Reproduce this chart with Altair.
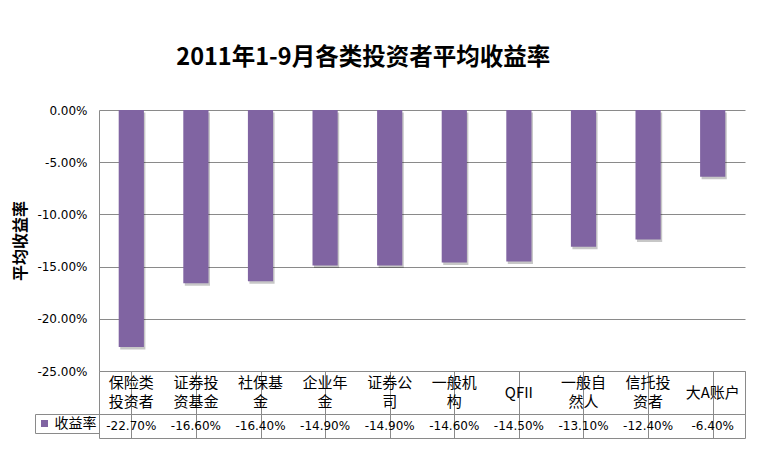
import altair as alt
import pandas as pd

# ---- data ----
categories = ["保险类投资者", "证券投资基金", "社保基金", "企业年金", "证券公司",
              "一般机构", "QFII", "一般自然人", "信托投资者", "大A账户"]
table_labels = ["保险类\n投资者", "证券投\n资基金", "社保基\n金", "企业年\n金", "证券公\n司",
                "一般机\n构", "QFII", "一般自\n然人", "信托投\n资者", "大A账户"]
returns_pct = [-22.70, -16.60, -16.40, -14.90, -14.90, -14.60, -14.50, -13.10, -12.40, -6.40]
y_ticks_pct = [0, -5, -10, -15, -20, -25]
series_name = "收益率"
title_text = "2011年1-9月各类投资者平均收益率"
y_title = "平均收益率"

top_line, bottom_line, single_line = [], [], []
for lab in table_labels:
    parts = lab.split("\n")
    if len(parts) == 2:
        top_line.append(parts[0]); bottom_line.append(parts[1]); single_line.append("")
    else:
        top_line.append(""); bottom_line.append(""); single_line.append(lab)

df = pd.DataFrame({
    "cat": categories,
    "l1": top_line,
    "l2": bottom_line,
    "l0": single_line,
    "ret": [v / 100 for v in returns_pct],
    "series": series_name,
})

PURPLE = "#8064A2"
GRID = "#8a8a8a"
W = 646
FONT = "Noto Sans CJK SC"
NUMFONT = "DejaVu Sans"

xscale_bar = alt.Scale(domain=categories, paddingInner=0.61, paddingOuter=0.305)
xscale_tab = alt.Scale(domain=categories, paddingInner=0, paddingOuter=0)
yscale = alt.Scale(domain=[-0.25, 0], nice=False, zero=False)

yaxis = alt.Axis(values=[t / 100 for t in y_ticks_pct], format=".2%", grid=True,
                 gridColor=GRID, domainColor=GRID, ticks=False, labelPadding=12,
                 labelFont=NUMFONT, labelFontSize=12, labelColor="#000",
                 title=y_title, titleFont=FONT, titleFontSize=16, titleFontWeight="bold",
                 titlePadding=8, titleColor="#000")

base_top = alt.Chart(df).encode(
    x=alt.X("cat:N", scale=xscale_bar, sort=categories, axis=None),
    y=alt.Y("ret:Q", scale=yscale, axis=yaxis),
)
shadow = base_top.mark_bar(color="#000", opacity=0.22, xOffset=1.5, x2Offset=1.5,
                           yOffset=2.5, y2Offset=2.5)
bars = base_top.mark_bar(color=PURPLE)
top = alt.layer(shadow, bars).properties(width=W, height=261,
                                         view=alt.ViewBackground(stroke=None))

xaxis_tab = alt.Axis(bandPosition=0, grid=True, gridColor=GRID, labels=False,
                     ticks=False, domain=False, title=None)
xtab = alt.X("cat:N", scale=xscale_tab, sort=categories, axis=xaxis_tab)

def label_layer(field, dy):
    return alt.Chart(df).mark_text(
        font=FONT, fontSize=15, baseline="middle", align="center", color="#000", dy=dy
    ).encode(x=xtab, text=f"{field}:N")

labels_panel = alt.layer(
    label_layer("l1", -9.5), label_layer("l2", 9.5), label_layer("l0", 0)
).properties(width=W, height=43, view=alt.ViewBackground(stroke=GRID, strokeWidth=1))

values_text = alt.Chart(df).mark_text(
    font=NUMFONT, fontSize=12, baseline="middle", align="center", color="#000"
).encode(
    x=xtab,
    text=alt.Text("ret:Q", format=".2%"),
)
legend_layer = alt.Chart(df).mark_point(filled=True, opacity=0, shape="square").encode(
    x=xtab,
    color=alt.Color("series:N", scale=alt.Scale(domain=[series_name], range=[PURPLE]),
                    legend=alt.Legend(orient="left", title=None, symbolType="square",
                                      symbolSize=49, symbolOpacity=1, symbolStrokeWidth=0,
                                      padding=2.5, offset=0, strokeColor=GRID,
                                      columnPadding=0, rowPadding=0,
                                      labelFont=FONT, labelFontSize=14, labelOffset=3,
                                      labelColor="#000")),
)
values_panel = alt.layer(values_text, legend_layer).properties(
    width=W, height=24, view=alt.ViewBackground(stroke=GRID, strokeWidth=1))

chart = alt.vconcat(top, labels_panel, values_panel, spacing=0, bounds="flush").resolve_scale(
    x="independent", color="independent"
).resolve_legend(color="independent").properties(
    title=alt.Title(title_text, font=FONT, fontSize=23.5, fontWeight="bold", color="#000",
                    anchor="middle", offset=35, dx=-16),
    padding={"left": 4, "top": 37, "right": 5, "bottom": 5},
).configure(
    locale={"number": {"decimal": ".", "thousands": ",", "grouping": [3],
                       "currency": ["$", ""], "minus": "-"}}
)

chart.save("out.html", embed_options={"renderer": "svg", "actions": False})
